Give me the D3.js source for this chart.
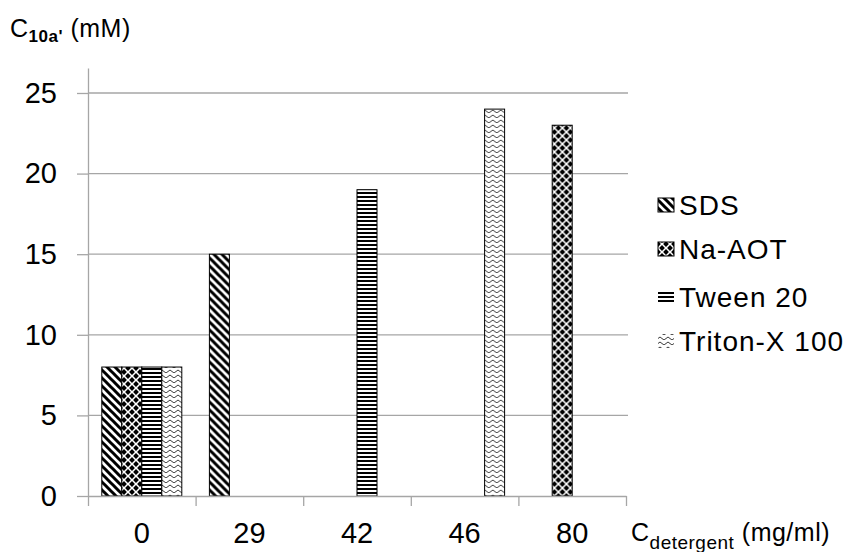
<!DOCTYPE html>
<html>
<head>
<meta charset="utf-8">
<script src="https://cdn.jsdelivr.net/npm/d3@7"></script>
<style>
  body { margin: 0; background: #fff; }
  text { font-family: "Liberation Sans", Arial, sans-serif; }
</style>
</head>
<body>
<div id="chart"></div>
<script>
// data
var categories = ["0", "29", "42", "46", "80"];
var seriesNames = ["SDS", "Na-AOT", "Tween 20", "Triton-X 100"];
var sds = [8, 15, 0, 0, 0];
var naAot = [8, 0, 0, 0, 23];
var tween20 = [8, 0, 19, 0, 0];
var triton = [8, 0, 0, 24, 0];
var yTicks = [0, 5, 10, 15, 20, 25];

var svgWidth = 864;
var svgHeight = 552;

var margin = { top: 68, left: 88, right: 238, bottom: 56 };
var chartWidth = svgWidth - margin.left - margin.right;
var chartHeight = svgHeight - margin.top - margin.bottom;

var seriesValues = [sds, naAot, tween20, triton];
var patternIds = ["pSds", "pAot", "pTween", "pTriton"];

var svg = d3.select("#chart").append("svg")
  .attr("width", svgWidth)
  .attr("height", svgHeight);

// fill patterns
var defs = svg.append("defs");

var p1 = defs.append("pattern").attr("id", "pSds")
  .attr("patternUnits", "userSpaceOnUse").attr("width", 8).attr("height", 8);
p1.append("rect").attr("width", 8).attr("height", 8).attr("fill", "#fff");
p1.append("path").attr("d", "M-2,-2 L10,10 M-2,6 L2,10 M6,-2 L10,2")
  .attr("stroke", "#000").attr("stroke-width", 3);

// black diamonds on white
var p2 = defs.append("pattern").attr("id", "pAot")
  .attr("patternUnits", "userSpaceOnUse").attr("width", 8).attr("height", 8);
p2.append("rect").attr("width", 8).attr("height", 8).attr("fill", "#fff");
var hd = 2.9;
[[4, 0], [4, 8], [0, 4], [8, 4]].forEach(function(c) {
  p2.append("path")
    .attr("d", `M${c[0]},${c[1] - hd} L${c[0] + hd},${c[1]} L${c[0]},${c[1] + hd} L${c[0] - hd},${c[1]} Z`)
    .attr("fill", "#000");
});

var p3 = defs.append("pattern").attr("id", "pTween")
  .attr("patternUnits", "userSpaceOnUse").attr("width", 8).attr("height", 4);
p3.append("rect").attr("width", 8).attr("height", 4).attr("fill", "#fff");
p3.append("rect").attr("y", 0).attr("width", 8).attr("height", 2).attr("fill", "#000");

var p4 = defs.append("pattern").attr("id", "pTriton")
  .attr("patternUnits", "userSpaceOnUse").attr("width", 8).attr("height", 5);
p4.append("rect").attr("width", 8).attr("height", 5).attr("fill", "#fff");
p4.append("path").attr("d", "M0,3.5 Q2,0.5 4,3.5 T8,3.5")
  .attr("fill", "none").attr("stroke", "#222").attr("stroke-width", 0.9);

var chartGroup = svg.append("g")
  .attr("transform", `translate(${margin.left}, ${margin.top})`);

// scales
var x0 = d3.scaleBand()
  .domain(categories)
  .range([0, chartWidth])
  .padding(0);

var x1 = d3.scaleBand()
  .domain(seriesNames)
  .range([0, x0.bandwidth()])
  .paddingInner(0)
  .paddingOuter(0.69);

var y = d3.scaleLinear()
  .domain([0, 26.55])
  .range([chartHeight, 0]);

// gridlines
chartGroup.append("g")
  .selectAll("line")
  .data(yTicks.slice(1))
  .enter()
  .append("line")
  .attr("x1", 0)
  .attr("x2", chartWidth + 2)
  .attr("y1", d => y(d))
  .attr("y2", d => y(d))
  .attr("stroke", "#a6a6a6")
  .attr("stroke-width", 1.3);

// y axis
var yAxis = d3.axisLeft(y).tickValues(yTicks).tickSizeInner(11).tickSizeOuter(0).tickPadding(20);
var yG = chartGroup.append("g").call(yAxis);
yG.selectAll("path, line").attr("stroke", "#a6a6a6").attr("stroke-width", 1.3);
yG.selectAll("text").attr("font-size", "29px").attr("fill", "#000")
  .style("font-family", "Liberation Sans, Arial, sans-serif");

// bars
var groups = chartGroup.selectAll(".cat")
  .data(categories)
  .enter()
  .append("g")
  .attr("transform", d => `translate(${x0(d)}, 0)`);

groups.selectAll("rect")
  .data((d, i) => seriesNames.map((s, j) => ({ s: s, j: j, v: seriesValues[j][i] })).filter(e => e.v > 0))
  .enter()
  .append("rect")
  .attr("x", d => x1(d.s))
  .attr("y", d => y(d.v))
  .attr("width", x1.bandwidth())
  .attr("height", d => chartHeight - y(d.v))
  .attr("fill", d => `url(#${patternIds[d.j]})`)
  .attr("stroke", "#000")
  .attr("stroke-width", 1);

// x axis: ticks on category boundaries, labels in the middle
var xEdge = d3.scaleLinear().domain([0, categories.length]).range([0, chartWidth]);
var xAxisTicks = d3.axisBottom(xEdge).ticks(categories.length).tickSizeInner(10).tickSizeOuter(0).tickFormat("");
var xG = chartGroup.append("g")
  .attr("transform", `translate(0, ${chartHeight})`)
  .call(xAxisTicks);
xG.selectAll("path, line").attr("stroke", "#a6a6a6").attr("stroke-width", 1.3);

var xAxisLabels = d3.axisBottom(x0).tickSize(0).tickPadding(26);
var xL = chartGroup.append("g")
  .attr("transform", `translate(0, ${chartHeight})`)
  .call(xAxisLabels);
xL.select(".domain").remove();
xL.selectAll("text").attr("font-size", "29px").attr("fill", "#000")
  .style("font-family", "Liberation Sans, Arial, sans-serif");

// legend
var legend = svg.append("g").attr("transform", "translate(658, 0)");
var legendY = [205, 249, 297, 341];
seriesNames.forEach(function(name, i) {
  legend.append("rect")
    .attr("x", 0)
    .attr("y", legendY[i] - 7)
    .attr("width", 16)
    .attr("height", 14)
    .attr("fill", `url(#${patternIds[i]})`)
    .attr("stroke", i === 2 || i === 3 ? "none" : "#000")
    .attr("stroke-width", 1);
  legend.append("text")
    .attr("x", 21)
    .attr("y", legendY[i] + 10)
    .attr("font-size", "28px")
    .attr("letter-spacing", "1px")
    .attr("fill", "#000")
    .text(name);
});

// y axis title
var yTitle = svg.append("text").attr("x", 10).attr("y", 37).attr("font-size", "25px").attr("letter-spacing", "0.5px");
yTitle.append("tspan").text("C");
yTitle.append("tspan").attr("dy", 5).attr("font-size", "17px").attr("font-weight", "bold").text("10a'");
yTitle.append("tspan").attr("dy", -5).text(" (mM)");

// x axis title
var xTitle = svg.append("text").attr("x", 631).attr("y", 541).attr("font-size", "25px").attr("letter-spacing", "0.5px");
xTitle.append("tspan").text("C");
xTitle.append("tspan").attr("dy", 8).attr("font-size", "19px").text("detergent");
xTitle.append("tspan").attr("dy", -8).text(" (mg/ml)");
</script>
</body>
</html>
